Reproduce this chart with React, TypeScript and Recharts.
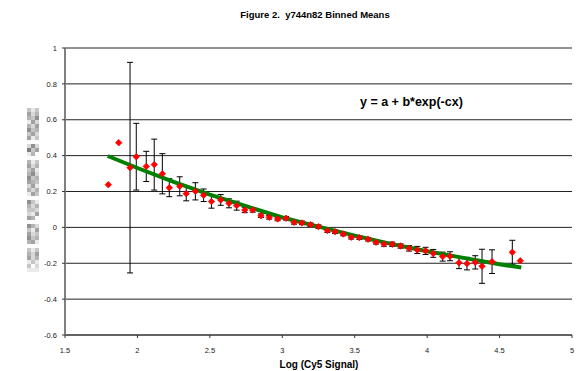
import React from "react";
import { ScatterChart, Scatter, XAxis, YAxis, CartesianGrid, ErrorBar } from "recharts";

const xs = [1.799, 1.871, 1.949, 1.992, 2.061, 2.116, 2.172, 2.22, 2.292, 2.337, 2.4, 2.457, 2.511, 2.575, 2.632, 2.685, 2.741, 2.796, 2.853, 2.91, 2.968, 3.026, 3.081, 3.136, 3.195, 3.25, 3.311, 3.364, 3.421, 3.476, 3.532, 3.592, 3.647, 3.702, 3.759, 3.817, 3.875, 3.932, 3.989, 4.042, 4.107, 4.158, 4.22, 4.275, 4.332, 4.379, 4.448, 4.588, 4.643];
const ys = [0.238, 0.472, 0.333, 0.394, 0.34, 0.35, 0.299, 0.221, 0.229, 0.188, 0.201, 0.179, 0.144, 0.153, 0.134, 0.121, 0.097, 0.097, 0.065, 0.056, 0.047, 0.051, 0.028, 0.025, 0.015, 0.004, -0.018, -0.024, -0.037, -0.055, -0.057, -0.066, -0.083, -0.093, -0.094, -0.104, -0.117, -0.126, -0.131, -0.145, -0.163, -0.161, -0.197, -0.202, -0.195, -0.217, -0.191, -0.139, -0.186];
const errs = [0, 0, 0.587, 0.186, 0.084, 0.142, 0.112, 0.05, 0.053, 0.04, 0.048, 0.035, 0.037, 0.03, 0.025, 0.025, 0.015, 0.012, 0.01, 0.01, 0.01, 0.01, 0.01, 0.01, 0.01, 0.01, 0.01, 0.01, 0.01, 0.01, 0.01, 0.01, 0.01, 0.012, 0.012, 0.012, 0.015, 0.02, 0.02, 0.022, 0.025, 0.025, 0.033, 0.035, 0.037, 0.095, 0.066, 0.067, 0];

const fitX = [1.795, 2.0, 2.25, 2.5, 2.75, 3.0, 3.25, 3.5, 3.75, 4.0, 4.25, 4.5, 4.65];
const fitY = [0.398, 0.331, 0.254, 0.183, 0.118, 0.055, 0.004, -0.046, -0.092, -0.133, -0.17, -0.206, -0.224];

const xTicks = [1.5, 2, 2.5, 3, 3.5, 4, 4.5, 5];
const yTicks = [-0.6, -0.4, -0.2, 0, 0.2, 0.4, 0.6, 0.8, 1];

const title = "Figure 2.  y744n82 Binned Means";
const xTitle = "Log (Cy5 Signal)";
const equation = "y = a + b*exp(-cx)";

const points = xs.map((x, i) => ({ x, y: ys[i], err: errs[i] }));
const fit = fitX.map((x, i) => ({ x, y: fitY[i] }));

const FONT = "'Liberation Sans', Arial, sans-serif";

const blurRows = [
  "686", "475", "563", "847", "574", "365", "647", "486", "999", "737",
  "264", "859", "999", "586", "475", "648", "537", "365", "456", "748",
  "575", "846", "999", "368", "575", "667", "784", "459", "999", "357",
  "684", "476", "365", "548", "999", "686", "574", "475", "868", "697",
  "888",
];

const Diamond = (props: any) => {
  const { cx, cy } = props;
  if (cx == null || cy == null) return null;
  const r = 3.2;
  return (
    <path
      d={`M${cx},${cy - r}L${cx + r},${cy}L${cx},${cy + r}L${cx - r},${cy}Z`}
      fill="#FF0000"
      stroke="#FF0000"
      strokeWidth={0.8}
    />
  );
};

const NoShape = () => null;

export default function App() {
  return (
    <div
      style={{
        position: "absolute",
        left: 0,
        top: 0,
        width: 578,
        height: 371,
        overflow: "hidden",
        background: "#fff",
        fontFamily: FONT,
      }}
    >
      <ScatterChart
        width={578}
        height={371}
        margin={{ top: 48, right: 6, bottom: 0, left: 35 }}
      >
        <CartesianGrid horizontal vertical={false} stroke="#222" strokeWidth={1} />
        <XAxis
          type="number"
          dataKey="x"
          domain={[1.5, 5]}
          ticks={xTicks}
          height={36}
          interval={0}
          axisLine={{ stroke: "#555", strokeWidth: 1.5 }}
          tickLine={{ stroke: "#333" }}
          tickSize={3}
          tickMargin={10}
          tick={{ fontSize: 7.5, fill: "#222", fontFamily: FONT }}
        />
        <YAxis
          type="number"
          dataKey="y"
          domain={[-0.6, 1]}
          ticks={yTicks}
          width={30}
          interval={0}
          axisLine={{ stroke: "#808080", strokeWidth: 2 }}
          tickLine={{ stroke: "#333" }}
          tickSize={3}
          tickMargin={5}
          tick={{ fontSize: 7.5, fill: "#222", fontFamily: FONT }}
        />
        <Scatter
          data={fit}
          line={{ stroke: "#008000", strokeWidth: 4 }}
          lineType="joint"
          shape={NoShape}
          isAnimationActive={false}
        />
        <Scatter data={points} shape={Diamond} isAnimationActive={false}>
          <ErrorBar dataKey="err" direction="y" width={3} stroke="#000" strokeWidth={1} />
        </Scatter>
      </ScatterChart>

      <div
        style={{
          position: "absolute",
          left: 165,
          width: 300,
          top: 9,
          textAlign: "center",
          fontSize: 9.5,
          lineHeight: "11px",
          fontWeight: "bold",
          color: "#000",
          whiteSpace: "pre",
        }}
      >
        {title}
      </div>
      <div
        style={{
          position: "absolute",
          left: 360,
          top: 95,
          fontSize: 12.5,
          lineHeight: "14px",
          fontWeight: "bold",
          color: "#000",
          whiteSpace: "pre",
        }}
      >
        {equation}
      </div>
      <div
        style={{
          position: "absolute",
          left: 169,
          width: 300,
          top: 359,
          textAlign: "center",
          fontSize: 10,
          lineHeight: "12px",
          fontWeight: "bold",
          color: "#000",
          whiteSpace: "pre",
        }}
      >
        {xTitle}
      </div>
      <div style={{ position: "absolute", left: 27, top: 108, width: 12 }}>
        {blurRows.map((row, i) => (
          <div key={i} style={{ display: "flex", height: 4 }}>
            {row.split("").map((c, j) => {
              const v = 90 + Number(c) * 18;
              return (
                <div
                  key={j}
                  style={{ width: 4, height: 4, background: `rgb(${v},${v},${v})` }}
                />
              );
            })}
          </div>
        ))}
      </div>
    </div>
  );
}
